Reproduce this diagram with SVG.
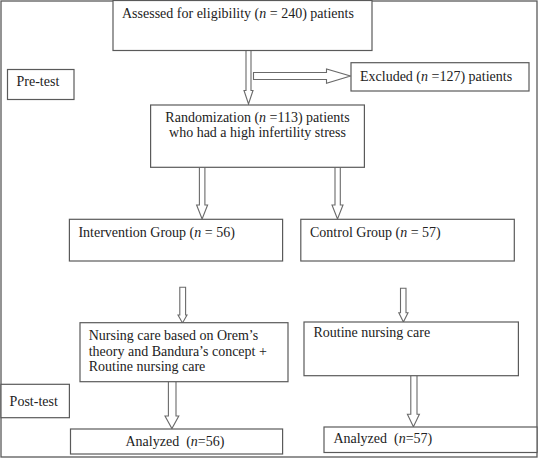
<svg xmlns="http://www.w3.org/2000/svg" width="539" height="459" viewBox="0 0 539 459">
<style>
.box{fill:#fff;stroke:#5a5a5a;stroke-width:1.2}
.arr{fill:#fff;stroke:#6a6a6a;stroke-width:1.1;stroke-linejoin:miter}
text{font-family:"Liberation Serif","Times New Roman",serif;font-size:14px;fill:#222}
</style>
<rect x="0" y="0" width="539" height="459" fill="#fff"/>
<rect x="1" y="1" width="536" height="456" fill="none" stroke="#5a5a5a" stroke-width="1.3"/>
<g id="connectors">
<path class="arr" d="M246,50.5 V90.5 H244 L248.5,104 L253,90.5 H251 V50.5"/>
<path class="arr" d="M253.5,72.5 H326.5 V69 L350.5,76 L326.5,83.3 V79.5 H253.5 Z"/>
<path class="arr" d="M199.4,167.5 V205 H196.6 L202.1,219 L207.6,205 H204.9 V167.5"/>
<path class="arr" d="M335,167.5 V205 H332 L337.5,219 L343,205 H340.3 V167.5"/>
<path class="arr" d="M179.8,287.3 V315 H178 L182.5,323 L187,315 H185.6 V287.3 Z"/>
<path class="arr" d="M400.5,288.3 V312.7 H398.8 L403.4,322 L408,312.7 H406 V288.3 Z"/>
<path class="arr" d="M168.4,382 V416 H165 L171.9,428.5 L178.8,416 H176 V382"/>
<path class="arr" d="M410.8,376 V414.3 H407.4 L413.4,426.7 L419.4,414.3 H417 V376"/>
</g>
<g id="assessed"><rect class="box" x="113" y="0.5" width="259" height="50"/><text x="122" y="17.5">Assessed for eligibility (<tspan font-style="italic">n</tspan> = 240) patients</text></g>
<g id="pretest"><rect class="box" x="7.5" y="69.5" width="66.5" height="30"/><text x="16.5" y="86">Pre-test</text></g>
<g id="excluded"><rect class="box" x="351" y="62.7" width="178" height="28.3"/><text x="360" y="81">Excluded (<tspan font-style="italic">n</tspan> =127) patients</text></g>
<g id="randomization"><rect class="box" x="150.6" y="105" width="213.8" height="62.3"/><text x="257.5" y="121.7" text-anchor="middle">Randomization (<tspan font-style="italic">n</tspan> =113) patients</text><text x="257.5" y="136.7" text-anchor="middle">who had a high infertility stress</text></g>
<g id="intervention"><rect class="box" x="69.4" y="219.3" width="213.2" height="41.7"/><text x="78.4" y="237.3">Intervention Group (<tspan font-style="italic">n</tspan> = 56)</text></g>
<g id="control"><rect class="box" x="300.8" y="219.3" width="213.5" height="41.7"/><text x="310" y="237.3">Control Group (<tspan font-style="italic">n</tspan> = 57)</text></g>
<g id="nursing"><rect class="box" x="80" y="322.7" width="208" height="59"/><text x="88.7" y="340">Nursing care based on Orem’s</text><text x="88.7" y="356">theory and Bandura’s concept +</text><text x="88.7" y="370.7">Routine nursing care</text></g>
<g id="routine"><rect class="box" x="304" y="322" width="214.4" height="53.7"/><text x="313.5" y="337.3">Routine nursing care</text></g>
<g id="posttest"><rect class="box" x="1" y="384.3" width="68.4" height="33.4"/><text x="9.6" y="405.5">Post-test</text></g>
<g id="analyzed1"><rect class="box" x="70.5" y="429" width="212.1" height="25"/><text x="125.5" y="445.7">Analyzed &#160;(<tspan font-style="italic">n</tspan>=56)</text></g>
<g id="analyzed2"><rect class="box" x="324" y="427" width="213" height="25.5"/><text x="333.4" y="443.3">Analyzed &#160;(<tspan font-style="italic">n</tspan>=57)</text></g>
</svg>
